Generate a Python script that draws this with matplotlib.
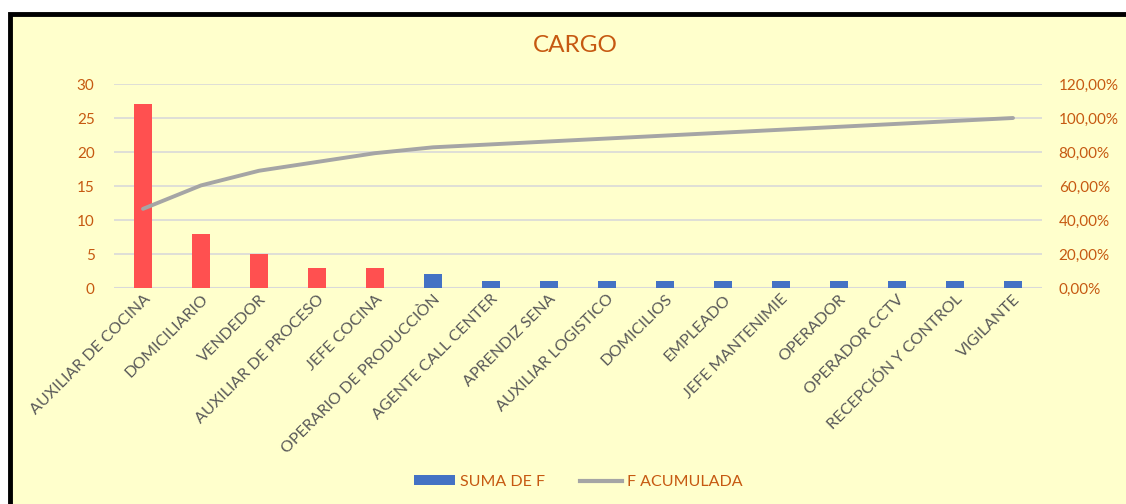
import numpy as np
import matplotlib
matplotlib.use("Agg")
import matplotlib.pyplot as plt
from matplotlib.patches import Rectangle, Patch
from matplotlib.lines import Line2D

# data
cargos = ["AUXILIAR DE COCINA", "DOMICILIARIO", "VENDEDOR", "AUXILIAR DE PROCESO",
          "JEFE COCINA", "OPERARIO DE PRODUCCIÒN", "AGENTE CALL CENTER", "APRENDIZ SENA",
          "AUXILIAR LOGISTICO", "DOMICILIOS", "EMPLEADO", "JEFE MANTENIMIE",
          "OPERADOR", "OPERADOR CCTV", "RECEPCIÓN Y CONTROL", "VIGILANTE"]
suma_f = [27, 8, 5, 3, 3, 2, 1, 1, 1, 1, 1, 1, 1, 1, 1, 1]
f_acum = [46.55, 60.34, 68.97, 74.14, 79.31, 82.76, 84.48, 86.21,
          87.93, 89.66, 91.38, 93.10, 94.83, 96.55, 98.28, 100.0]
n_top = 5  # highlighted bars

bg = "#FFFFCC"
orange = "#C65911"
red = "#FF5050"
blue = "#4472C4"
grey_line = "#A5A5A5"

plt.rcParams["font.family"] = ["Lato", "DejaVu Sans"]

fig = plt.figure(figsize=(11.26, 5.04), dpi=100)
fig.patch.set_facecolor("white")
fig.patches.append(Rectangle((10 / 1126, -0.2), 1.2, 1.2 - 14 / 504,
                             transform=fig.transFigure, facecolor=bg,
                             edgecolor="black", linewidth=3.5, zorder=-5))

ax = fig.add_axes([114 / 1126, 1 - 288 / 504, 928 / 1126, 204 / 504])
ax.set_facecolor("none")
x = np.arange(len(cargos))
colors = [red if i < n_top else blue for i in range(len(cargos))]
ax.bar(x, suma_f, width=0.31, color=colors, zorder=3)
ax.set_xlim(-0.5, len(cargos) - 0.5)
ax.set_ylim(0, 30)
ax.set_yticks(range(0, 31, 5))
ax.grid(axis="y", color="#D9D9D9", linewidth=1.2, zorder=0)
for s in ax.spines.values():
    s.set_visible(False)
ax.tick_params(axis="y", length=0, colors=orange, labelsize=11, pad=14)
ax.tick_params(axis="x", length=0, pad=3)
ax.set_xticks(x)
ax.set_xticklabels(cargos, rotation=45, ha="right", rotation_mode="anchor",
                   fontsize=11.5, color="#595959")
ax.axhline(0, color="#D9D9D9", linewidth=1.5, zorder=2)

ax2 = ax.twinx()
ax2.plot(x, f_acum, color=grey_line, linewidth=2.8, solid_capstyle="round", zorder=4)
ax2.set_ylim(0, 120)
ax2.set_yticks(range(0, 121, 20))
ax2.set_yticklabels([f"{v},00%" for v in range(0, 121, 20)])
ax2.tick_params(axis="y", length=0, colors=orange, labelsize=11, pad=12)
for s in ax2.spines.values():
    s.set_visible(False)

fig.text(575 / 1126, 1 - 45 / 504, "CARGO", ha="center", va="center",
         fontsize=17.5, color=orange)

handles = [Patch(facecolor=blue), Line2D([0], [0], color=grey_line, linewidth=3)]
fig.legend(handles, ["SUMA DE F", "F ACUMULADA"], loc="center",
           bbox_to_anchor=(578 / 1126, 1 - 482 / 504), ncol=2, frameon=False,
           fontsize=11.5, labelcolor=orange, handlelength=2.6, handletextpad=0.3,
           columnspacing=2.2, handleheight=0.6)

fig.savefig("out.png", dpi=100, facecolor=fig.get_facecolor())
